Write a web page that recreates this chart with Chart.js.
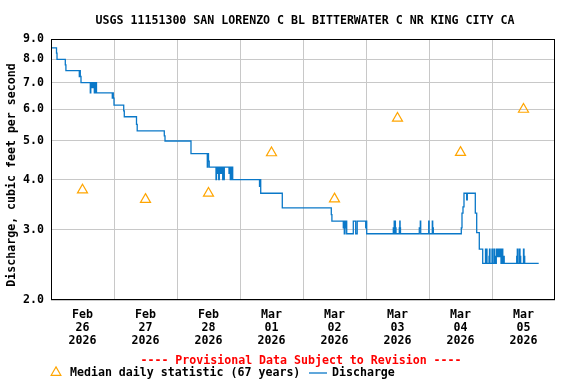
<!DOCTYPE html>
<html>
<head>
<meta charset="utf-8">
<script src="https://cdn.jsdelivr.net/npm/chart.js@4.4.1/dist/chart.umd.min.js"></script>
<style>
html,body{margin:0;padding:0;background:#ffffff;}
canvas{display:block;}
</style>
</head>
<body>
<canvas id="c" width="576" height="384"></canvas>
<script>
// ---- texts ----
const titleText = 'USGS 11151300 SAN LORENZO C BL BITTERWATER C NR KING CITY CA';
const yAxisTitle = 'Discharge, cubic feet per second';
const provisionalText = '---- Provisional Data Subject to Revision ----';
const medianLabel = 'Median daily statistic (67 years)';
const dischargeLabel = 'Discharge';

// ---- tick labels (one per day, Feb 26 .. Mar 05 2026) ----
const tickMonths = ['Feb','Feb','Feb','Mar','Mar','Mar','Mar','Mar'];
const tickDays   = ['26','27','28','01','02','03','04','05'];
const tickYear   = '2026';
const yTickValues = [2,3,4,5,6,7,8,9];

// ---- median daily statistic (at noon of each day, hours since Feb 26 00:00) ----
const medianHours  = [12,36,60,84,108,132,156,180];
const medianValues = [3.77,3.57,3.70,4.67,3.58,5.70,4.68,6.00];

// ---- discharge (hours since Feb 26 00:00, cfs) : value changes ----
const dischargeHours = [
  0.00, 2.10, 2.29, 5.45, 5.68, 10.78, 11.05, 11.16, 11.43, 14.97,
  15.16, 15.43, 15.62, 15.81, 16.00, 16.50, 16.65, 16.88, 17.14, 17.33,
  23.35, 23.54, 23.73, 24.00, 27.70, 27.92, 32.57, 32.84, 43.16, 43.43,
  53.33, 59.54, 59.73, 60.00, 60.27, 62.86, 63.05, 63.24, 63.50, 63.89,
  64.11, 64.50, 64.76, 64.95, 65.14, 65.41, 65.60, 65.79, 66.02, 67.81,
  68.08, 68.30, 68.53, 68.76, 68.95, 69.22, 79.43, 79.73, 79.89, 88.11,
  106.78, 107.01, 111.35, 111.50, 111.73, 112.00, 112.27, 112.50, 112.65, 115.16,
  116.08, 116.65, 119.89, 120.08, 120.27, 130.40, 130.63, 130.74, 130.90, 131.05,
  131.20, 131.43, 132.69, 132.88, 132.99, 133.14, 140.30, 140.69, 140.84, 143.89,
  144.04, 145.26, 145.41, 145.64, 156.30, 156.57, 156.95, 157.33, 158.36, 158.59,
  161.64, 162.17, 163.16, 164.46, 165.52, 165.71, 165.90, 166.10, 166.86, 167.05,
  167.24, 168.00, 168.19, 168.76, 168.95, 169.26, 169.64, 169.90, 170.13, 170.36,
  170.59, 170.86, 171.12, 171.43, 171.92, 172.11, 172.46, 172.65, 177.41, 177.64,
  177.90, 178.48, 178.67, 178.93, 180.00, 180.19, 180.46, 185.79
];
const dischargeValues = [
  8.55, 8.3, 8.0, 7.75, 7.5, 7.25, 7.5, 7.25, 7.0, 6.6,
  7.0, 6.8, 7.0, 6.8, 7.0, 6.6, 7.0, 6.6, 7.0, 6.6,
  6.4, 6.6, 6.4, 6.15, 5.95, 5.75, 5.5, 5.3, 5.15, 5.0,
  4.65, 4.3, 4.65, 4.45, 4.3, 4.0, 4.3, 4.15, 4.3, 4.0,
  4.3, 4.15, 4.3, 4.15, 4.3, 4.0, 4.3, 4.0, 4.3, 4.15,
  4.3, 4.0, 4.3, 4.0, 4.3, 4.0, 3.85, 4.0, 3.7, 3.4,
  3.27, 3.15, 3.03, 3.15, 2.93, 3.15, 3.03, 3.15, 2.93, 3.15,
  2.93, 3.15, 3.03, 3.15, 2.93, 3.03, 2.93, 3.15, 2.93, 3.15,
  3.03, 2.93, 3.03, 3.15, 3.03, 2.93, 3.03, 3.15, 2.93, 3.15,
  2.93, 3.15, 3.03, 2.93, 3.03, 3.3, 3.42, 3.7, 3.56, 3.7,
  3.3, 2.95, 2.68, 2.47, 2.68, 2.47, 2.68, 2.47, 2.57, 2.68,
  2.47, 2.68, 2.47, 2.68, 2.57, 2.47, 2.68, 2.57, 2.68, 2.57,
  2.68, 2.57, 2.68, 2.47, 2.68, 2.47, 2.57, 2.47, 2.57, 2.68,
  2.47, 2.68, 2.57, 2.47, 2.68, 2.57, 2.47, 2.47
];

// ---- styling ----
const FAMILY = '"DejaVu Sans Mono", "Liberation Mono", monospace';
const FSIZE = 11.6;
const FONT = 'bold ' + FSIZE + 'px ' + FAMILY;
const BLUE = '#0a78c8';
const ORANGE = '#ffa500';
const GRID = '#c8c8c8';

const dischargeData = dischargeHours.map((h, i) => ({x: h, y: dischargeValues[i]}));
const medianData = medianHours.map((h, i) => ({x: h, y: medianValues[i]}));
const xTickHours = [];
for (let h = 12; h <= 180; h += 12) xTickHours.push(h);

const deco = {
  id: 'deco',
  beforeDraw(chart) {
    const ctx = chart.ctx;
    ctx.save();
    ctx.fillStyle = '#ffffff';
    ctx.fillRect(0, 0, chart.width, chart.height);
    ctx.restore();
  },
  afterDraw(chart) {
    const ctx = chart.ctx;
    const a = chart.chartArea;
    ctx.save();
    // frame
    ctx.strokeStyle = '#000000';
    ctx.lineWidth = 1;
    ctx.strokeRect(Math.round(a.left) + 0.5, Math.round(a.top) + 0.5,
                   Math.round(a.right - a.left) - 1, Math.round(a.bottom - a.top) - 1);
    ctx.font = FONT;
    ctx.fillStyle = '#000000';
    // title
    ctx.textAlign = 'center';
    ctx.textBaseline = 'alphabetic';
    ctx.fillText(titleText, (a.left + a.right) / 2 + 2, 24);
    // y axis title
    ctx.save();
    ctx.translate(14.5, 175);
    ctx.rotate(-Math.PI / 2);
    ctx.textAlign = 'center';
    ctx.fillText(yAxisTitle, 0, 0);
    ctx.restore();
    // provisional
    ctx.fillStyle = '#ff0000';
    ctx.textAlign = 'center';
    ctx.fillText(provisionalText, 301, 364);
    // legend
    ctx.fillStyle = '#000000';
    ctx.textAlign = 'left';
    ctx.fillText(medianLabel, 70, 376);
    ctx.fillText(dischargeLabel, 332, 376);
    ctx.strokeStyle = BLUE;
    ctx.lineWidth = 1.3;
    ctx.beginPath();
    ctx.moveTo(309, 373);
    ctx.lineTo(327, 373);
    ctx.stroke();
    // legend triangle
    const cx = 56, cy = 372.5, r = 5.6;
    ctx.strokeStyle = ORANGE;
    ctx.lineWidth = 1.2;
    ctx.beginPath();
    ctx.moveTo(cx, cy - r);
    ctx.lineTo(cx + r * Math.sin(Math.PI / 3), cy + r / 2);
    ctx.lineTo(cx - r * Math.sin(Math.PI / 3), cy + r / 2);
    ctx.closePath();
    ctx.stroke();
    ctx.restore();
  }
};

new Chart(document.getElementById('c'), {
  type: 'line',
  data: {
    datasets: [
      {
        label: medianLabel,
        data: medianData,
        showLine: false,
        pointStyle: 'triangle',
        pointRadius: 5.8,
        pointBorderWidth: 1.2,
        pointBorderColor: ORANGE,
        pointBackgroundColor: 'rgba(0,0,0,0)',
        borderColor: ORANGE,
        order: 0
      },
      {
        label: dischargeLabel,
        data: dischargeData,
        stepped: true,
        borderColor: BLUE,
        borderWidth: 1.3,
        pointRadius: 0,
        fill: false,
        order: 1
      }
    ]
  },
  options: {
    responsive: false,
    animation: false,
    devicePixelRatio: 1,
    layout: { padding: { left: 0, top: 39, right: 21, bottom: 0 } },
    plugins: {
      legend: { display: false },
      title: { display: false },
      tooltip: { enabled: false }
    },
    scales: {
      x: {
        type: 'linear',
        min: 0,
        max: 192,
        border: { display: false },
        afterBuildTicks: (scale) => { scale.ticks = xTickHours.map(v => ({ value: v })); },
        afterFit: (scale) => { scale.height = 84; },
        grid: {
          drawTicks: false,
          lineWidth: 1,
          color: (ctx) => (ctx.tick && ctx.tick.value % 24 === 0) ? GRID : 'rgba(0,0,0,0)'
        },
        ticks: {
          autoSkip: false,
          maxRotation: 0,
          minRotation: 0,
          padding: 8,
          color: '#000000',
          font: { family: FAMILY, size: FSIZE, weight: 'bold', lineHeight: 1.14 },
          callback: (v) => {
            if (v % 24 !== 12) return '';
            const i = Math.round((v - 12) / 24);
            return [tickMonths[i], tickDays[i], tickYear];
          }
        }
      },
      y: {
        type: 'logarithmic',
        min: 2,
        max: 9,
        border: { display: false },
        afterBuildTicks: (scale) => { scale.ticks = yTickValues.map(v => ({ value: v })); },
        afterFit: (scale) => { scale.width = 51; },
        grid: {
          drawTicks: false,
          lineWidth: 1,
          color: GRID
        },
        ticks: {
          padding: 7,
          color: '#000000',
          font: { family: FAMILY, size: FSIZE, weight: 'bold' },
          callback: (v) => Number(v).toFixed(1)
        }
      }
    }
  },
  plugins: [deco]
});
</script>
</body>
</html>
